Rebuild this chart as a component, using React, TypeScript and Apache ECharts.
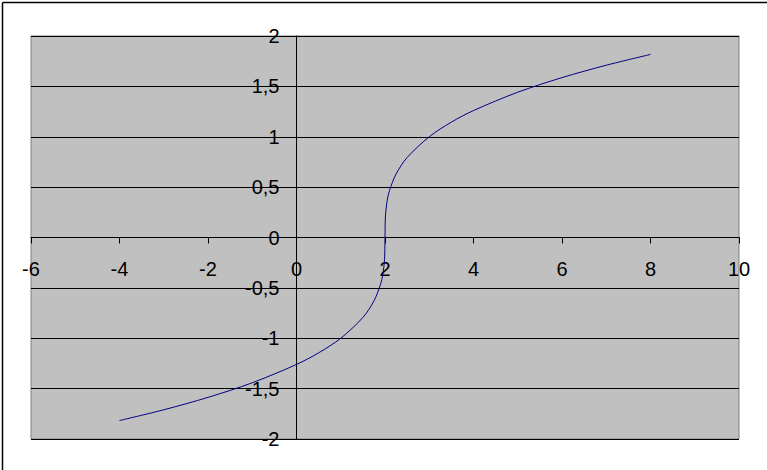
import React, { useEffect, useRef } from "react";
import * as echarts from "echarts";

const xValues = [-4, -3, -2, -1, 0, 0.5, 1, 1.5, 1.75, 1.9, 1.95, 1.99, 2, 2.01, 2.05, 2.1, 2.25, 2.5, 3, 3.5, 4, 5, 6, 7, 8];
const yValues = [-1.817, -1.71, -1.587, -1.442, -1.26, -1.145, -1.0, -0.794, -0.63, -0.464, -0.368, -0.215, 0, 0.215, 0.368, 0.464, 0.63, 0.794, 1.0, 1.145, 1.26, 1.442, 1.587, 1.71, 1.817];

const xMin = -6;
const xMax = 10;
const xStep = 2;
const yMin = -2;
const yMax = 2;
const yStep = 0.5;

export default function App() {
  const ref = useRef<HTMLDivElement>(null);
  useEffect(() => {
    if (!ref.current) return;
    const chart = echarts.init(ref.current, null, { renderer: "svg" });
    const font = "Arial, 'Liberation Sans', sans-serif";
    const gLeft = 31;
    const gTop = 36;
    const gWidth = 708;
    const gHeight = 403;
    const xOffset = -(gHeight * (0 - yMin)) / (yMax - yMin);
    const yOffset = -(gWidth * (0 - xMin)) / (xMax - xMin);
    chart.setOption({
      animation: false,
      backgroundColor: "#ffffff",
      grid: {
        left: gLeft,
        top: gTop,
        width: gWidth,
        height: gHeight,
        containLabel: false,
        outerBoundsMode: "none",
        show: true,
        backgroundColor: "#c0c0c0",
        borderColor: "#808080",
        borderWidth: 1,
      },
      xAxis: {
        type: "value",
        position: "bottom",
        offset: xOffset,
        min: xMin,
        max: xMax,
        interval: xStep,
        axisLine: { show: true, onZero: false, lineStyle: { color: "#000", width: 1 } },
        axisTick: { show: true, length: 6, lineStyle: { color: "#000" } },
        axisLabel: {
          show: true,
          margin: 21,
          color: "#000",
          fontFamily: font,
          fontSize: 20,
          showMinLabel: true,
          showMaxLabel: true,
        },
        splitLine: { show: false },
      },
      yAxis: {
        type: "value",
        position: "left",
        offset: yOffset,
        min: yMin,
        max: yMax,
        interval: yStep,
        axisLine: { show: true, onZero: false, lineStyle: { color: "#000", width: 1 } },
        axisTick: { show: true, length: 7, lineStyle: { color: "#000" } },
        axisLabel: {
          show: true,
          margin: 17,
          color: "#000",
          fontFamily: font,
          fontSize: 20,
          showMinLabel: true,
          showMaxLabel: true,
          formatter: (v: number) => String(v).replace(".", ","),
        },
        splitLine: { show: true, lineStyle: { color: "#000", width: 1 } },
      },
      graphic: [
        { type: "line", shape: { x1: 2.5, y1: 2.5, x2: 767, y2: 2.5 }, style: { stroke: "#000", lineWidth: 1.5 } },
        { type: "line", shape: { x1: 2.5, y1: 2.5, x2: 2.5, y2: 470 }, style: { stroke: "#000", lineWidth: 1.5 } },
      ],
      series: [
        {
          type: "line",
          data: xValues.map((x, i) => [x, yValues[i]]),
          showSymbol: false,
          smooth: 0.3,
          lineStyle: { color: "#000080", width: 1 },
        },
      ],
    });
    return () => chart.dispose();
  }, []);
  return <div ref={ref} style={{ position: "fixed", left: 0, top: 0, width: 767, height: 470 }} />;
}
